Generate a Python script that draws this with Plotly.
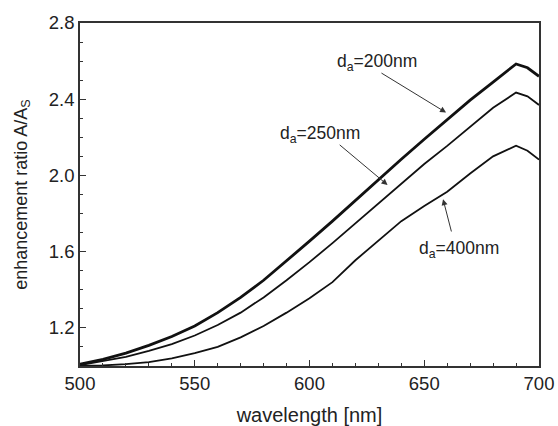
import plotly.graph_objects as go

wavelength = [500, 510, 520, 530, 540, 550, 560, 570, 580, 590, 600, 610, 620, 630,
              640, 650, 660, 670, 680, 690, 695, 700]
ratio_200 = [1.01, 1.035, 1.068, 1.108, 1.155, 1.21, 1.28, 1.36, 1.45, 1.55, 1.655, 1.76,
             1.87, 1.975, 2.085, 2.19, 2.295, 2.395, 2.49, 2.585, 2.565, 2.52]
ratio_250 = [1.005, 1.025, 1.048, 1.08, 1.115, 1.16, 1.215, 1.28, 1.36, 1.45, 1.545, 1.645,
             1.75, 1.855, 1.96, 2.06, 2.155, 2.255, 2.355, 2.435, 2.415, 2.37]
ratio_400 = [1.0, 1.003, 1.01, 1.02, 1.04, 1.067, 1.10, 1.15, 1.21, 1.28, 1.355, 1.44,
             1.555, 1.66, 1.76, 1.84, 1.915, 2.01, 2.10, 2.156, 2.13, 2.083]

FONT = "Liberation Sans, Arial, sans-serif"
INK = "#222222"

fig = go.Figure()
for ys, w in [(ratio_200, 2.8), (ratio_250, 1.8), (ratio_400, 1.8)]:
    fig.add_trace(go.Scatter(x=wavelength, y=ys, mode="lines",
                             line=dict(color="#111111", width=w),
                             showlegend=False))

# arrows (head, tail) in data coords
arrows = [((659.5, 2.33), (630.7, 2.542)),
          ((634.0, 1.95), (612.5, 2.167)),
          ((658.2, 1.875), (662.0, 1.698))]
for (hx, hy), (tx, ty) in arrows:
    fig.add_annotation(x=hx, y=hy, ax=tx, ay=ty, axref="x", ayref="y", xref="x", yref="y",
                       text="", showarrow=True, arrowhead=2, arrowsize=1.2, arrowwidth=1,
                       arrowcolor="#333333")

labels = [("d<sub>a</sub>=200nm", 629.4, 2.595),
          ("d<sub>a</sub>=250nm", 604.6, 2.215),
          ("d<sub>a</sub>=400nm", 665.0, 1.61)]
for t, x, y in labels:
    fig.add_annotation(x=x, y=y, xref="x", yref="y", text=t, showarrow=False,
                       font=dict(family=FONT, size=17.5, color=INK))

axis_common = dict(showline=True, linecolor="#333333", linewidth=1.5, mirror=True,
                   ticks="inside", ticklen=6, tickwidth=1.2, tickcolor="#333333",
                   showgrid=False, zeroline=False, automargin=False,
                   ticklabeloverflow="allow",
                   tickfont=dict(family=FONT, size=18.5, color=INK))

fig.update_xaxes(range=[500, 700], dtick=50, tick0=500,
                 minor=dict(ticks="inside", dtick=10, ticklen=3, tickcolor="#333333"),
                 title=dict(text="wavelength [nm]", font=dict(family=FONT, size=20, color=INK),
                            standoff=22),
                 **axis_common)
fig.update_yaxes(range=[1.0, 2.8], dtick=0.4, tick0=1.2,
                 minor=dict(ticks="inside", dtick=0.1, ticklen=3, tickcolor="#333333"),
                 tickformat=".1f",
                 title=dict(text="enhancement ratio A/A<sub>S</sub>",
                            font=dict(family=FONT, size=18, color=INK), standoff=17),
                 **axis_common)

fig.update_layout(width=558, height=426, margin=dict(l=80, r=19, t=23, b=60),
                  plot_bgcolor="white", paper_bgcolor="white")

fig.write_html("out.html", config={"displayModeBar": False},
               post_script="document.body.style.margin='0';document.body.style.overflow='hidden';")
